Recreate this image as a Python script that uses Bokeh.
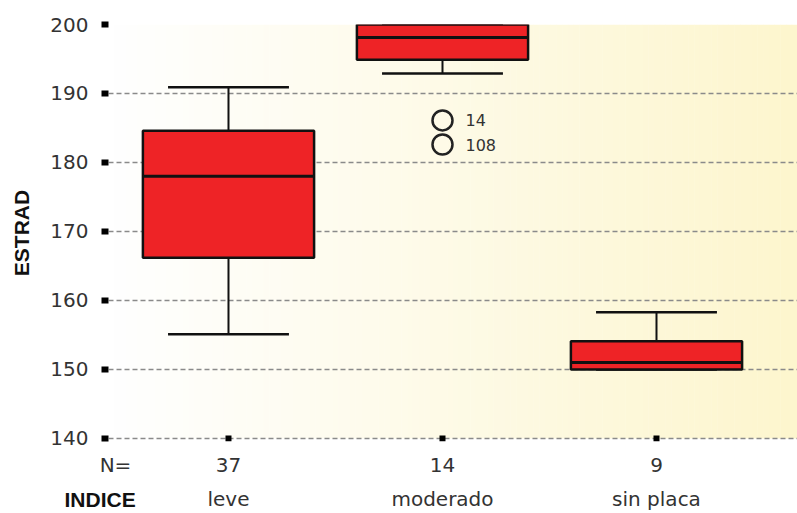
import numpy as np
from bokeh.plotting import figure
from bokeh.models import LinearAxis, FixedTicker, Range1d, Title
from bokeh.core.properties import value
from bokeh.embed import file_html
from bokeh.resources import INLINE

# ---- data ----
categories = ["leve", "moderado", "sin placa"]
n_counts = ["37", "14", "9"]
q1 = [166.2, 194.9, 150.0]
median = [178.0, 198.1, 151.0]
q3 = [184.6, 200.0, 154.1]
lower_whisker = [155.1, 192.9, 150.0]
upper_whisker = [190.9, 200.0, 158.3]
outlier_cat = ["moderado", "moderado"]
outlier_val = [186.1, 182.6]
outlier_id = ["14", "108"]
y_ticks = [140, 150, 160, 170, 180, 190, 200]

xpos = [i + 1 for i in range(len(categories))]
cat_index = {c: i + 1 for i, c in enumerate(categories)}
out_x = [cat_index[c] for c in outlier_cat]

FONT = "DejaVu Sans"
BOLD = "Liberation Sans"

x0, x1 = 0.4393, 3.6589
y0, y1 = 139.565, 200
p = figure(width=797, height=513, output_backend="svg", toolbar_location=None,
           x_range=Range1d(x0, x1), y_range=Range1d(y0, y1),
           x_axis_location=None, y_axis_location=None,
           min_border_left=108, min_border_right=0, min_border_top=24, min_border_bottom=72,
           background_fill_color="white", border_fill_color="white")
p.outline_line_color = None
p.xgrid.visible = False
p.ygrid.ticker = FixedTicker(ticks=y_ticks)
p.ygrid.grid_line_color = "#8a8a8a"
p.ygrid.grid_line_dash = "5 3"
p.ygrid.grid_line_width = 1.5

# background gradient (white -> pale yellow) over the value area
nstrip = 120
edges = np.linspace(x0, x1, nstrip + 1)
t = np.linspace(0, 1, nstrip)
c0 = np.array([255, 255, 255])
c1 = np.array([253, 246, 206])
cols = ["#%02x%02x%02x" % tuple((c0 + (c1 - c0) * tt).astype(int)) for tt in t]
g = p.quad(left=edges[:-1], right=edges[1:] + 0.002, bottom=y_ticks[0], top=y_ticks[-1],
           fill_color=cols, line_color=None)
g.level = "image"

# y axis
yax = LinearAxis(ticker=FixedTicker(ticks=y_ticks), axis_label="ESTRAD")
yax.axis_line_color = None
yax.major_tick_line_color = "black"
yax.major_tick_line_width = 6
yax.major_tick_out = 7
yax.major_tick_in = 0
yax.minor_tick_line_color = None
yax.major_label_standoff = 13
yax.major_label_text_font = FONT
yax.major_label_text_font_size = "20px"
yax.major_label_text_color = "#333333"
yax.axis_label_text_font = BOLD
yax.axis_label_text_font_style = "bold"
yax.axis_label_text_font_size = "21px"
yax.axis_label_text_color = "#111111"
yax.axis_label_standoff = 14
p.add_layout(yax, "left")

# x axis 1: "N=" and the counts
xn_label_x = x0 + 7 / 214
xn = LinearAxis(ticker=FixedTicker(ticks=[xn_label_x] + xpos),
                major_label_overrides={**{xn_label_x: "N="},
                                       **{x: n for x, n in zip(xpos, n_counts)}})
xn.axis_line_color = None
xn.major_tick_line_color = None
xn.major_tick_out = 0
xn.major_tick_in = 0
xn.minor_tick_line_color = None
xn.major_label_standoff = 11
xn.major_label_text_font = FONT
xn.major_label_text_font_size = "20px"
xn.major_label_text_color = "#333333"
p.add_layout(xn, "below")

# x axis 2: category names
xc = LinearAxis(ticker=FixedTicker(ticks=xpos),
                major_label_overrides={x: c for x, c in zip(xpos, categories)})
xc.axis_line_color = None
xc.major_tick_line_color = None
xc.major_tick_out = 0
xc.major_tick_in = 0
xc.minor_tick_line_color = None
xc.major_label_standoff = 7
xc.major_label_text_font = FONT
xc.major_label_text_font_size = "20px"
xc.major_label_text_color = "#333333"
p.add_layout(xc, "below")

# "INDICE" on the same row as the category names
p.add_layout(Title(text="INDICE", align="left", vertical_align="top", offset=-44,
                   standoff=-52, text_font=BOLD, text_font_style="bold",
                   text_font_size="21px", text_color="#111111"), "below")

# category tick squares on the 140 line
p.rect(x=xpos, y=y_ticks[0], width=6, height=6, width_units="screen", height_units="screen",
       fill_color="black", line_color=None)

# boxes
bw = 0.8
cw = 0.565
red = "#ee2326"
p.segment(x0=xpos, y0=q3, x1=xpos, y1=upper_whisker, line_color="#111111", line_width=2)
p.segment(x0=xpos, y0=q1, x1=xpos, y1=lower_whisker, line_color="#111111", line_width=2)
p.segment(x0=[x - cw / 2 for x in xpos], y0=upper_whisker, x1=[x + cw / 2 for x in xpos],
          y1=upper_whisker, line_color="#111111", line_width=2.5)
p.segment(x0=[x - cw / 2 for x in xpos], y0=lower_whisker, x1=[x + cw / 2 for x in xpos],
          y1=lower_whisker, line_color="#111111", line_width=2.5)
p.vbar(x=xpos, width=bw, bottom=q1, top=q3, fill_color=red, line_color="#111111", line_width=2.5)
p.segment(x0=[x - bw / 2 for x in xpos], y0=median, x1=[x + bw / 2 for x in xpos], y1=median,
          line_color="#111111", line_width=3)

# outliers
p.scatter(x=out_x, y=outlier_val, size=20, marker="circle", fill_color=None,
          line_color="#222222", line_width=2.5)
p.text(x=out_x, y=outlier_val, text=outlier_id, x_offset=23, text_baseline="middle",
       text_font=value(FONT), text_font_size="16px", text_color="#333333")

open("out.html", "w").write(file_html(p, INLINE))
